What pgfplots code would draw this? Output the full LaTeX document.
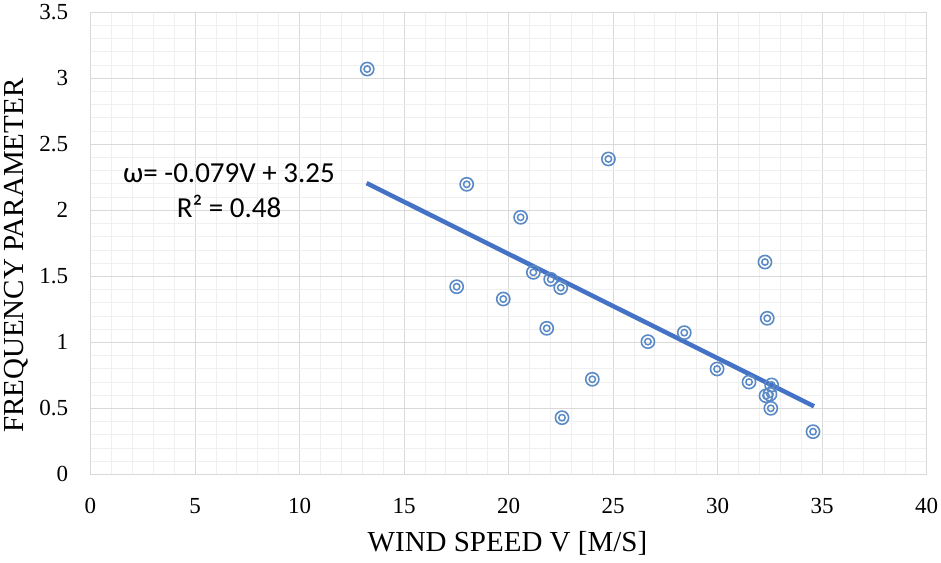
\documentclass[border=0pt]{standalone}
\usepackage{fontspec}
\setmainfont{Liberation Serif}
\newfontfamily\calibri{Carlito}
\usepackage{pgfplots}
\usepackage{pgfplotstable}
\pgfplotsset{compat=1.18}
\definecolor{mk}{HTML}{5A8AC6}
\definecolor{tl}{HTML}{4472C4}
\definecolor{gmaj}{HTML}{D9D9D9}
\definecolor{gmin}{HTML}{EFEFEF}
\pgfplotstableread{
x y
13.24 3.070
18.00 2.197
17.52 1.421
19.75 1.328
20.58 1.947
21.19 1.530
22.02 1.477
22.50 1.414
21.83 1.106
22.56 0.429
24.01 0.720
24.78 2.389
26.67 1.005
28.41 1.073
29.98 0.798
31.51 0.699
32.27 1.608
32.38 1.182
32.59 0.677
32.32 0.595
32.51 0.606
32.55 0.500
34.57 0.323
}\pts
\pgfplotstableread{
x y
13.21 2.206
34.62 0.515
}\trend
\begin{document}
\begin{tikzpicture}
\useasboundingbox (-90.5pt,-87.7pt) rectangle (850.5pt,474.3pt);
\begin{axis}[
 at={(0,0)}, anchor=south west,
 scale only axis, width=836pt, height=462pt,
 xmin=0, xmax=40, ymin=0, ymax=3.5,
 xtick={0,5,...,40}, ytick={0,0.5,...,3.5},
 minor x tick num=4, minor y tick num=4,
 grid=both,
 major grid style={gmaj, line width=0.9pt},
 minor grid style={gmin, line width=0.8pt},
 axis line style={gmaj, line width=0.9pt},
 major tick length=0pt, minor tick length=0pt,
 tick style={draw=none},
 /pgf/number format/assume math mode=true,
 tick label style={font=\fontsize{23}{26}\selectfont},
 xticklabel style={anchor=base, inner sep=0pt, yshift=-38.7pt},
 yticklabel style={anchor=east, inner sep=0pt, xshift=-22.2pt},
 clip=false,
]
\addplot[tl, line width=4.5pt] table[x=x,y=y] {\trend};
\addplot[only marks, mark=o, mark size=6.6pt, mark options={mk, line width=1.6pt}] table[x=x,y=y] {\pts};
\addplot[only marks, mark=o, mark size=3.2pt, mark options={mk, line width=1.5pt}] table[x=x,y=y] {\pts};
\end{axis}
\node[rotate=90, anchor=base, font=\fontsize{29}{32}\selectfont] at (-67.2pt,218.6pt) {FREQUENCY PARAMETER};
\node[anchor=base, font=\fontsize{29}{32}\selectfont] at (417pt,-76.7pt) {WIND SPEED V [M/S]};
\node[anchor=base, font=\calibri\fontsize{29}{32}\selectfont] at (138.5pt,291.3pt) {ω= -0.079V + 3.25};
\node[anchor=base, font=\calibri\fontsize{29}{32}\selectfont] at (138.5pt,256.3pt) {R² = 0.48};
\end{tikzpicture}
\end{document}
